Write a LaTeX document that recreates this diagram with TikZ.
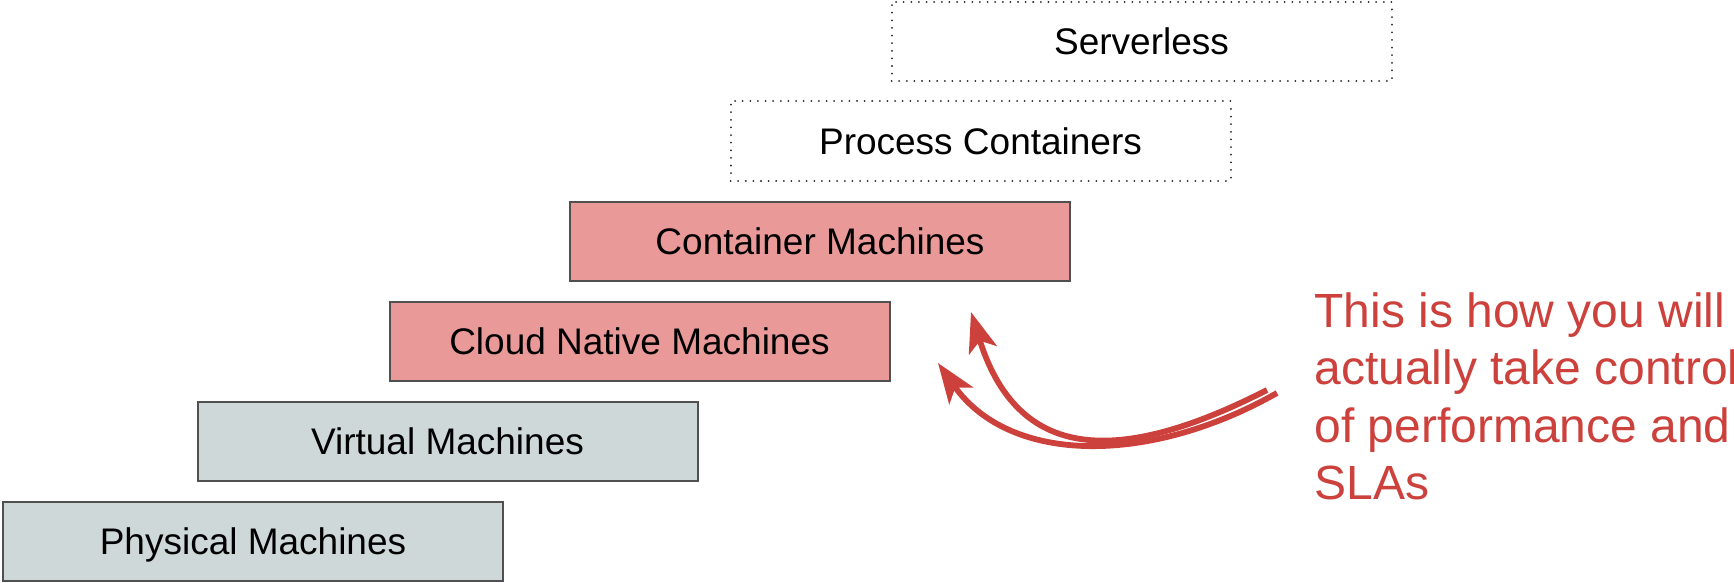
\documentclass[tikz,border=0pt]{standalone}
\usepackage{fontspec}
\setmainfont{Liberation Sans}
\usetikzlibrary{arrows.meta}
\definecolor{boxred}{RGB}{234,153,153}
\definecolor{boxgrey}{RGB}{207,216,216}
\definecolor{edgegrey}{RGB}{80,80,80}
\definecolor{accent}{RGB}{204,65,60}
\begin{document}
\begin{tikzpicture}[x=0.5pt,y=-0.5pt,
  layer/.style={draw=edgegrey, line width=1pt, minimum width=250pt, minimum height=39.5pt, inner sep=0pt, text height=13.25pt, text depth=0pt, font=\fontsize{18.5pt}{22pt}\selectfont},
  greybox/.style={layer, fill=boxgrey},
  redbox/.style={layer, fill=boxred},
  dotbox/.style={layer, draw=black!85, dash pattern=on 0.01pt off 3.8pt, line cap=round},
  bendarrow/.style={draw=accent, line width=2.9pt, -{Stealth[length=20pt,width=14.5pt,inset=5pt]}},
  note/.style={text=accent, anchor=north west, inner sep=0pt, align=left, font=\fontsize{24pt}{28.75pt}\selectfont}
]
\useasboundingbox (0,0) rectangle (1734,583);
\clip (0,0) rectangle (1734,583);

\node[greybox] (phys)  at (253,541.5)  {Physical Machines};
\node[greybox] (virt)  at (447.5,441.5) {Virtual Machines};
\node[redbox]  (cloud) at (639.5,341.5) {Cloud Native Machines};
\node[redbox]  (cont)  at (820,241)    {Container Machines};
\node[dotbox]  (proc)  at (980.5,141)  {Process Containers};
\node[dotbox]  (serv)  at (1141.5,41.5) {Serverless};

\node[note] (msg) at (1314,292) {This is how you will\\actually take control\\of performance and\\SLAs};

\coordinate (s1) at (1267,390);
\coordinate (e1) at (971,312);
\coordinate (s2) at (1277,393);
\coordinate (e2) at (938,363);

\draw[bendarrow] (s1) .. controls (1130,460) and (1020,470) .. (e1);
\draw[bendarrow] (s2) .. controls (1150,465) and (1010,465) .. (e2);
\end{tikzpicture}
\end{document}
